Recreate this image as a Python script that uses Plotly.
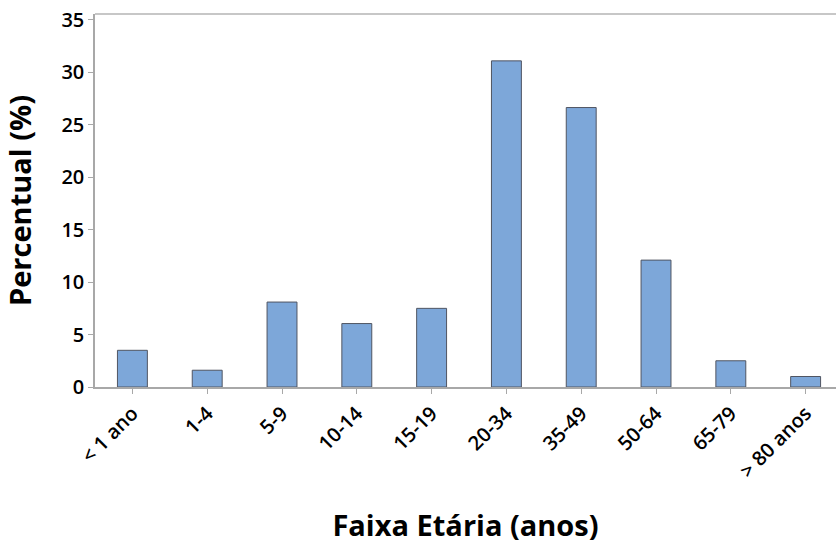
import plotly.graph_objects as go

categories = ["< 1 ano", "1-4", "5-9", "10-14", "15-19", "20-34", "35-49", "50-64", "65-79", "> 80 anos"]
percent = [3.5, 1.6, 8.1, 6.05, 7.5, 31.1, 26.65, 12.1, 2.5, 1.0]
y_ticks = [0, 5, 10, 15, 20, 25, 30, 35]

FONT = "Open Sans"

fig = go.Figure(
    go.Bar(
        x=list(range(len(categories))),
        y=percent,
        width=0.4,
        marker=dict(color="#7DA7D9", line=dict(color="#505562", width=1)),
    )
)

fig.update_layout(
    width=836,
    height=544,
    margin=dict(l=95, r=0, t=14, b=157),
    paper_bgcolor="white",
    plot_bgcolor="white",
    showlegend=False,
    font=dict(family=FONT, color="black"),
    shapes=[
        dict(type="line", xref="paper", yref="paper", x0=0, x1=1, y0=1, y1=1,
             line=dict(color="#b4b4b4", width=1.5)),
    ],
)

fig.update_xaxes(
    range=[-0.5, 9.406],
    tickmode="array",
    tickvals=list(range(len(categories))),
    ticktext=categories,
    tickangle=-45,
    tickfont=dict(size=20, family=FONT, weight=600),
    ticks="outside",
    ticklen=5,
    tickcolor="#a8a8a8",
    showline=True,
    linecolor="#a8a8a8",
    linewidth=1.5,
    showgrid=False,
    zeroline=False,
    ticklabeloverflow="allow",
    title=dict(text="Faixa Etária (anos)", font=dict(size=29, family=FONT, weight="bold"), standoff=34),
    automargin=False,
)

fig.update_yaxes(
    range=[0, 35.57],
    tickmode="array",
    tickvals=y_ticks,
    tickfont=dict(size=20, family=FONT, weight=600),
    ticks="outside",
    ticklen=5,
    tickcolor="#a8a8a8",
    showline=True,
    linecolor="#a8a8a8",
    linewidth=1.5,
    showgrid=False,
    zeroline=False,
    ticklabeloverflow="allow",
    title=dict(text="Percentual (%)", font=dict(size=29, family=FONT, weight="bold"), standoff=30),
    automargin=False,
)

# remove the default page margin so the figure fills the window exactly
fig.write_html(
    "out.html",
    config={"displayModeBar": False},
    post_script="document.body.style.margin='0';",
)
